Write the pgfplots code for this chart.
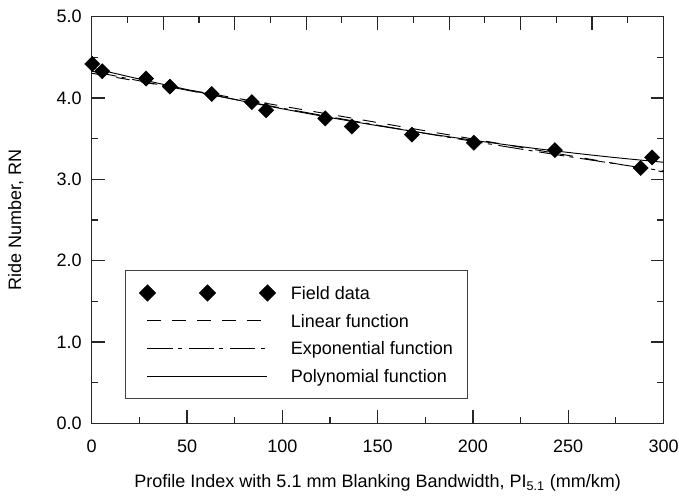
\documentclass[border=0pt]{standalone}
\usepackage{fontspec}
\setmainfont{Liberation Sans}
\usepackage{pgfplots}
\pgfplotsset{compat=1.18}
\usepackage{pgfplotstable}

% field data
\pgfplotstableread{
x y
0.3 4.42
5.5 4.33
28.5 4.24
41 4.14
63 4.05
84 3.95
91.5 3.85
122.5 3.75
136.5 3.65
168 3.55
200.5 3.45
243 3.36
288 3.14
294 3.27
}\fielddata

\pgfplotstableread{
x y
0 4.305
300 3.092
}\linfit

\pgfplotstableread{
x y
0 4.330
25 4.2115
50 4.0962
75 3.9841
100 3.8751
125 3.7690
150 3.6659
175 3.5655
200 3.4679
225 3.3730
250 3.2807
275 3.1909
300 3.1036
}\expfit

\pgfplotstableread{
x y
0 4.370
25 4.2336
50 4.1045
75 3.9825
100 3.8678
125 3.7603
150 3.6601
175 3.5670
200 3.4812
225 3.4026
250 3.3313
275 3.2671
300 3.2102
}\polyfit

\pgfplotsset{
  frame/.style={
    scale only axis, width=428.85pt, height=304.95pt,
    xmin=0, xmax=300, ymin=0, ymax=5,
    tick align=inside,
    major tick length=9.75pt, minor tick length=4.9pt,
    axis line style={line width=0.9pt, black!85},
    every tick/.style={line width=0.9pt, black!85},
  },
  longline/.style={legend image code/.code={\draw[##1] (0pt,0pt) -- (90pt,0pt);}},
  threemarks/.style={legend image code/.code={\draw[##1] plot coordinates {(0pt,0pt) (45pt,0pt) (90pt,0pt)};}},
  diamondmark/.style={only marks, mark=square*, mark size=4pt, mark options={rotate=45, fill=black}},
}

\begin{document}
\begin{tikzpicture}[font=\fontsize{13.5}{16}\selectfont]
\begin{axis}[
  frame,
  xtick={0,50,...,300}, minor x tick num=1,
  ytick={0,1,...,5}, minor y tick num=1,
  xtick pos=lower, ytick pos=both,
  /pgf/number format/assume math mode=true,
  yticklabel style={/pgf/number format/fixed, /pgf/number format/fixed zerofill,
    /pgf/number format/precision=1, xshift=-4pt},
  xticklabel style={yshift=-9pt},
  every axis y label/.style={at={(axis description cs:0,0.5)}, xshift=-57pt, rotate=90, anchor=center},
  every axis x label/.style={at={(axis description cs:0.5,0)}, yshift=-44.5pt, anchor=center},
  ylabel={Ride Number, RN},
  xlabel={Profile Index with 5.1 mm Blanking Bandwidth, PI\textsubscript{5.1} (mm/km)},
  legend cell align=left,
  legend style={
    at={(axis cs:17.5,1.885)}, anchor=north west,
    draw=black!75, line width=0.6pt,
    inner xsep=10.5pt, inner ysep=10.9pt,
    row sep=8.8pt, column sep=11.5pt,
    font=\fontsize{13.5}{16}\selectfont,
    nodes={inner sep=0pt, text height=10.85pt, text depth=1.15pt},
  },
]
\addlegendimage{diamondmark, mark size=4.24pt, threemarks}
\addlegendentry{Field data}
\addplot[black, line width=0.7pt, dash pattern=on 10pt off 8.75pt, longline]
  table[x=x, y=y] {\linfit};
\addlegendentry{Linear function}
\addplot[black, line width=0.7pt, dash pattern=on 19pt off 4pt on 3pt off 5pt, longline]
  table[x=x, y=y] {\expfit};
\addlegendentry{Exponential function}
\addplot[black, line width=0.7pt, smooth, longline]
  table[x=x, y=y] {\polyfit};
\addlegendentry{Polynomial function}
\addplot[diamondmark, forget plot]
  table[x=x, y=y] {\fielddata};
\end{axis}
% top axis carries its own tick spacing
\begin{axis}[
  frame,
  axis x line*=top, axis y line=none,
  tick align=inside,
  xtick={0,37.5,...,300}, minor x tick num=1,
  xticklabels={},
]
\end{axis}
\pgfresetboundingbox
\path (-68.8pt,-56pt) rectangle (440.45pt,317.5pt);
\end{tikzpicture}
\end{document}
